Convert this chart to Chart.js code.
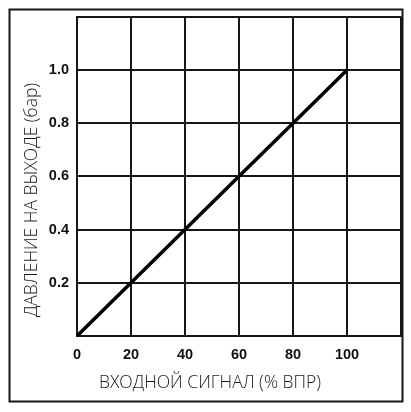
<!DOCTYPE html>
<html>
<head>
<meta charset="utf-8">
<script src="https://cdn.jsdelivr.net/npm/chart.js@4"></script>
<style>
  html, body { margin: 0; padding: 0; background: #fff; }
  #wrap { width: 411px; height: 412px; }
</style>
</head>
<body>
<div id="wrap"><canvas id="signalChart" width="411" height="412"></canvas></div>
<script>
// Data
const inputSignal = [0, 20, 40, 60, 80, 100];          // % ВПР
const outputPressure = [0, 0.2, 0.4, 0.6, 0.8, 1.0];   // бар
const xTickLabels = ["0", "20", "40", "60", "80", "100"];
const yTickLabels = ["0.2", "0.4", "0.6", "0.8", "1.0"];
const xTitle = "ВХОДНОЙ СИГНАЛ (% ВПР)";
const yTitle = "ДАВЛЕНИЕ НА ВЫХОДЕ (бар)";

const ink = "#161616";

// Frame and axis titles, centred on the whole picture like the original
const framePlugin = {
  id: "frame",
  afterDraw(chart) {
    const ctx = chart.ctx;
    ctx.save();
    ctx.strokeStyle = ink;
    ctx.lineWidth = 2;
    ctx.strokeRect(9.5, 9.5, 393, 392);

    ctx.fillStyle = "#1a1a1a";
    ctx.font = "300 17.5px 'Open Sans'";
    ctx.textAlign = "center";
    ctx.textBaseline = "middle";
    ctx.fillText(xTitle, 210, 383);

    ctx.translate(32, 200);
    ctx.rotate(-Math.PI / 2);
    ctx.fillText(yTitle, 0, 0);
    ctx.restore();
  },
};

function initChart() {
  const ctx = document.getElementById("signalChart").getContext("2d");

  new Chart(ctx, {
    type: "scatter",
    data: {
      datasets: [
        {
          data: inputSignal.map((x, i) => ({ x: x, y: outputPressure[i] })),
          showLine: true,
          borderColor: "#000",
          borderWidth: 3.5,
          pointRadius: 0,
          tension: 0,
        },
      ],
    },
    options: {
      responsive: false,
      animation: false,
      devicePixelRatio: 1,
      layout: { padding: { top: 9, right: 8, left: 0, bottom: 0 } },
      plugins: {
        legend: { display: false },
        tooltip: { enabled: false },
      },
      scales: {
        x: {
          type: "linear",
          min: 0,
          max: 120,
          afterFit: (scale) => { scale.height = 76; },
          grid: { color: ink, lineWidth: 2, drawTicks: false },
          border: { display: true, color: ink, width: 2 },
          ticks: {
            stepSize: 20,
            padding: 10,
            color: "#111",
            font: { family: "'Liberation Sans', Arial", size: 14.5, weight: "bold" },
            callback: (v) => (xTickLabels.includes(String(v)) ? String(v) : ""),
          },
        },
        y: {
          min: 0,
          max: 1.2,
          afterFit: (scale) => { scale.width = 77; },
          grid: { color: ink, lineWidth: 2, drawTicks: false },
          border: { display: true, color: ink, width: 2 },
          ticks: {
            stepSize: 0.2,
            padding: 8,
            color: "#111",
            font: { family: "'Liberation Sans', Arial", size: 14.5, weight: "bold" },
            callback: (v) => {
              const s = Number(v).toFixed(1);
              return yTickLabels.includes(s) ? s : "";
            },
          },
        },
      },
    },
    plugins: [framePlugin],
  });
}

window.addEventListener("DOMContentLoaded", initChart);
</script>
</body>
</html>
